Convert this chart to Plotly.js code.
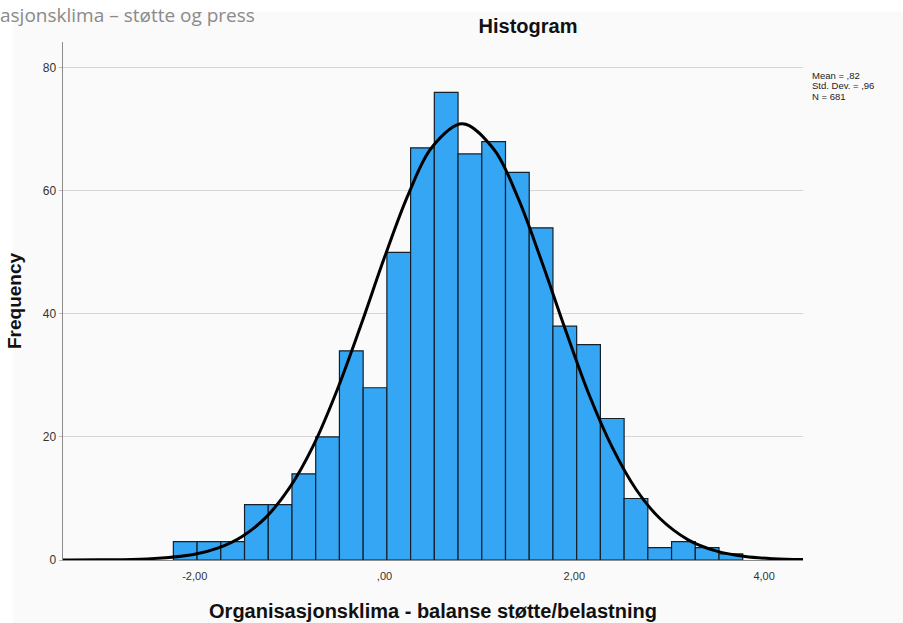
<!DOCTYPE html>
<html>
<head>
<meta charset="utf-8">
<script src="https://cdn.plot.ly/plotly-3.0.1.min.js"></script>
<style>
  html, body { margin: 0; padding: 0; background: #ffffff; }
  #chart { width: 903px; height: 623px; }
</style>
</head>
<body>
<div id="chart"></div>
<script>
// ---- data ----
const binStart = -2.225;      // lower edge of first bin
const binWidth = 0.25;        // bin width
const counts = [3, 3, 3, 9, 9, 14, 20, 34, 28, 50, 67, 76, 66, 68, 63, 54, 38, 35, 23, 10, 2, 3, 2, 1];

// normal curve
const curveX = [-3.39, -3.0, -2.5, -2.0, -1.75, -1.5, -1.25, -1.0, -0.75, -0.5, -0.25, 0.0, 0.25, 0.5, 0.82,
                1.15, 1.4, 1.65, 1.9, 2.15, 2.4, 2.65, 2.9, 3.2, 3.5, 3.8, 4.1, 4.41];
const curveY = [0.01, 0.03, 0.18, 0.95, 1.97, 3.83, 6.93, 11.75, 18.6, 27.6, 38.1, 49.2, 59.4, 67.1, 70.9,
                66.8, 59.1, 48.8, 37.7, 27.1, 18.3, 11.5, 6.78, 3.28, 1.44, 0.57, 0.21, 0.07];

const xTickVals = [-2, 0, 2, 4];
const xTickText = ["-2,00", ",00", "2,00", "4,00"];
const yTickVals = [0, 20, 40, 60, 80];
const yTickText = ["0", "20", "40", "60", "80"];

const statsLines = ["Mean = ,82", "Std. Dev. = ,96", "N = 681"];
const chartTitle = "Histogram";
const xTitle = "Organisasjonsklima - balanse støtte/belastning";
const yTitle = "Frequency";
const pageHeading = "asjonsklima – støtte og press";

// ---- build ----
const centers = counts.map((c, i) => binStart + (i + 0.5) * binWidth);

const W = 903, H = 623;
const M = {l: 63, r: 100, t: 42, b: 63};
const pw = W - M.l - M.r, ph = H - M.t - M.b;
const px2x = p => (p - M.l) / pw;
const py2y = p => (H - M.b - p) / ph;

const bars = {
  type: 'bar',
  x: centers,
  y: counts,
  width: counts.map(() => binWidth),
  marker: {color: '#35a6f3', line: {color: '#15202b', width: 1.2}},
  hoverinfo: 'x+y',
  showlegend: false
};

const curve = {
  type: 'scatter',
  mode: 'lines',
  x: curveX,
  y: curveY,
  line: {color: '#000000', width: 3, shape: 'spline', smoothing: 1},
  hoverinfo: 'skip',
  showlegend: false
};

const font = 'Liberation Sans, Arial, sans-serif';

const annotations = statsLines.map((t, i) => ({
  xref: 'paper', yref: 'paper',
  x: px2x(810), y: py2y(75 + i * 10.5),
  xanchor: 'left', yanchor: 'middle',
  text: t, showarrow: false,
  font: {family: font, size: 9.5, color: '#222'}
}));

annotations.push({
  xref: 'paper', yref: 'paper',
  x: px2x(-2), y: py2y(0),
  xanchor: 'left', yanchor: 'top',
  text: pageHeading, showarrow: false,
  font: {family: 'Open Sans, sans-serif', size: 19, color: '#8a8a8a'}
});

const layout = {
  width: W, height: H,
  margin: M,
  paper_bgcolor: '#ffffff',
  plot_bgcolor: 'rgba(0,0,0,0)',
  bargap: 0,
  title: {
    text: '<b>' + chartTitle + '</b>',
    xref: 'container', yref: 'container',
    x: 528 / W, y: 1 - 26 / H,
    xanchor: 'center', yanchor: 'middle',
    font: {family: font, size: 20, color: '#111'}
  },
  xaxis: {
    range: [-3.388, 4.41],
    tickvals: xTickVals, ticktext: xTickText,
    showgrid: false, zeroline: false,
    showline: true, linecolor: '#8c8c8c', linewidth: 1,
    ticks: '', ticklabelstandoff: 6,
    tickfont: {family: font, size: 11, color: '#333'},
    title: {text: '<b>' + xTitle + '</b>', font: {family: font, size: 20, color: '#111'}, standoff: 22}
  },
  yaxis: {
    range: [0, 84.2],
    tickvals: yTickVals, ticktext: yTickText,
    showgrid: true, gridcolor: '#d6d6d6', gridwidth: 1,
    zeroline: false,
    showline: true, linecolor: '#8c8c8c', linewidth: 1.5,
    ticks: 'outside', ticklen: 3, tickcolor: '#bbbbbb',
    tickfont: {family: font, size: 12, color: '#333'},
    title: {text: '<b>' + yTitle + '</b>', font: {family: font, size: 19, color: '#111'}, standoff: 16}
  },
  shapes: [{
    type: 'rect', xref: 'paper', yref: 'paper', layer: 'below',
    x0: px2x(13), x1: px2x(W), y0: py2y(H), y1: py2y(12),
    fillcolor: '#fafafa', line: {width: 0}
  }],
  annotations: annotations
};

Plotly.newPlot('chart', [bars, curve], layout, {displayModeBar: false, staticPlot: true});
</script>
</body>
</html>
